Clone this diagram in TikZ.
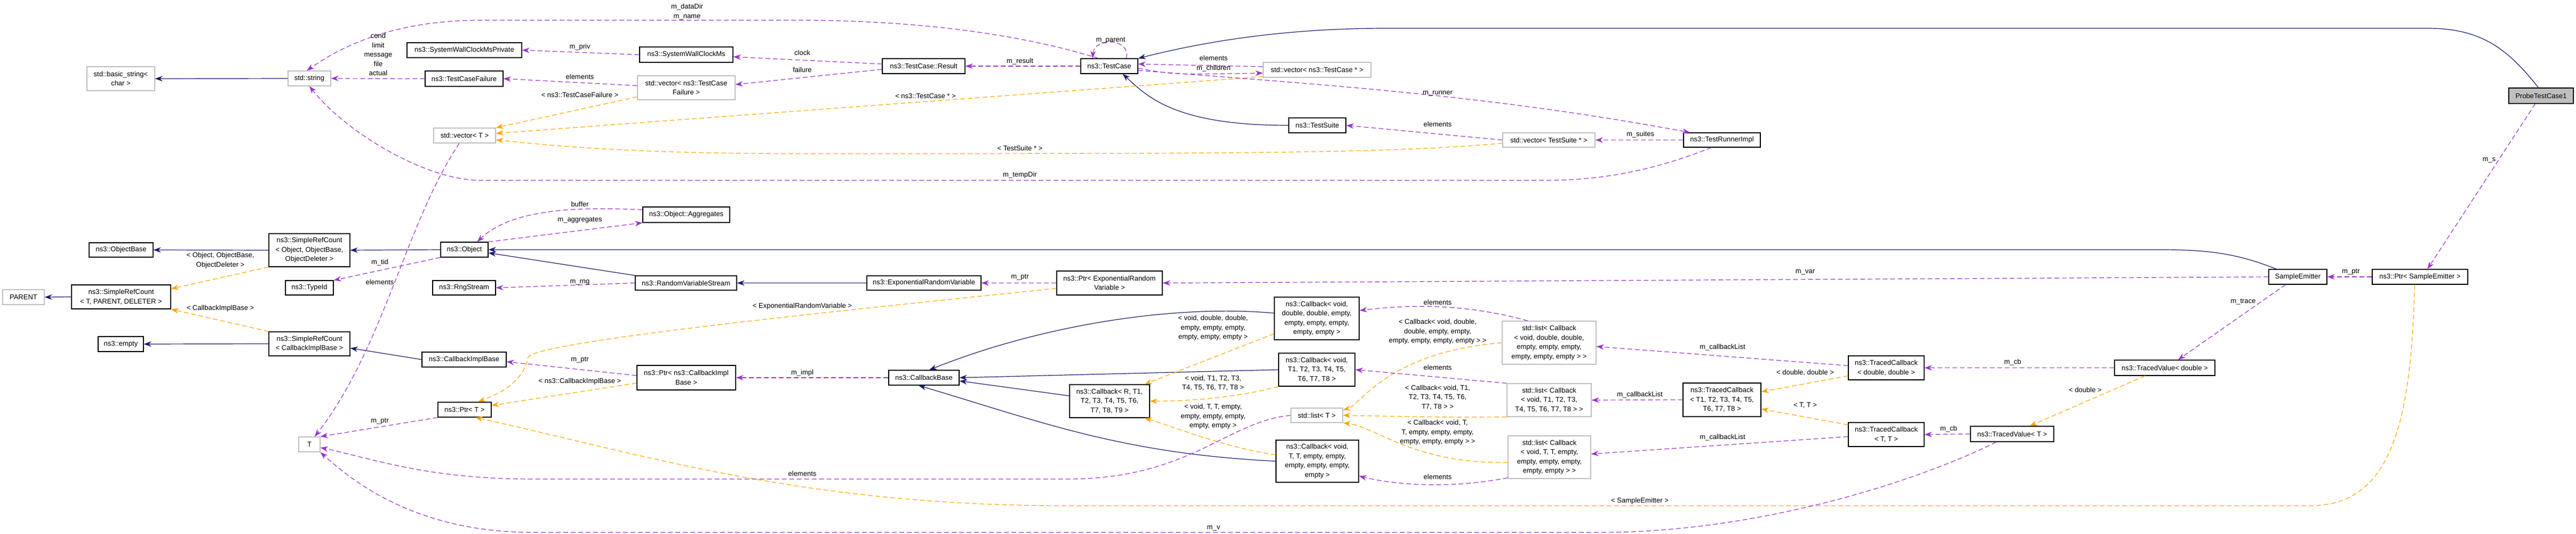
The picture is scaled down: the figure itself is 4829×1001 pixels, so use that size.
\documentclass[tikz,border=0pt]{standalone}
\usepackage{fontspec}
\setmainfont{Liberation Sans}
\usetikzlibrary{arrows.meta}
\definecolor{inh}{HTML}{191970}
\definecolor{use}{HTML}{9A32CD}
\definecolor{tpl}{HTML}{FFA500}
\definecolor{grayb}{HTML}{BFBFBF}
\newcommand\bx[7][]{\node[box,#1,minimum width={#4-#2},minimum height={#5-#3}] (#6) at ({(#2+#4)/2},{(#3+#5)/2}) {#7};}
\newcommand\lb[3]{\node[lbl] (#1) at (#2) {#3};}
\begin{document}
\begin{tikzpicture}[x=1pt,y=-1pt,
  box/.style={draw=black,line width=1.2pt,fill=white,align=center,inner sep=1pt,font=\fontsize{13}{17.5}\selectfont},
  gbox/.style={draw=grayb},
  lbl/.style={align=center,inner sep=0pt,font=\fontsize{13}{17.5}\selectfont},
  inhE/.style={draw=inh,line width=1.2pt,-{Stealth[length=14pt,width=10pt]}},
  useE/.style={draw=use,line width=1.2pt,dash pattern=on 9pt off 5pt,-{Stealth[length=14pt,width=10pt]}},
  tplE/.style={draw=tpl,line width=1.2pt,dash pattern=on 9pt off 5pt,-{Stealth[length=14pt,width=10pt]}}]
\useasboundingbox (0,0) rectangle (4829,1001);
% nodes
\bx[gbox]{163}{125}{290}{170}{bstr}{std::basic\_string<\\ char >}
\bx[gbox]{540}{133}{620}{161}{str}{std::string}
\bx{167}{455}{287}{482}{objbase}{ns3::ObjectBase}
\bx{504}{438}{656}{500}{srcobj}{ns3::SimpleRefCount\\< Object, ObjectBase,\\ObjectDeleter >}
\bx[gbox]{5}{543}{83}{571}{parent}{PARENT}
\bx{134}{534}{320}{579}{srct}{ns3::SimpleRefCount\\< T, PARENT, DELETER >}
\bx{535}{526}{625}{553}{typeid}{ns3::TypeId}
\bx{184}{631}{269}{659}{empty}{ns3::empty}
\bx{504}{622}{656}{667}{srccb}{ns3::SimpleRefCount\\< CallbackImplBase >}
\bx[gbox]{560}{819}{600}{847}{T}{T}
\bx{763}{80}{978}{108}{swcmp}{ns3::SystemWallClockMsPrivate}
\bx{797}{133}{943}{162}{tcf}{ns3::TestCaseFailure}
\bx{1199}{88}{1374}{117}{swcm}{ns3::SystemWallClockMs}
\bx[gbox]{1195}{142}{1378}{187}{vtcf}{std::vector< ns3::TestCase\\Failure >}
\bx{1654}{110}{1809}{138}{res}{ns3::TestCase::Result}
\bx[gbox]{813}{240}{929}{268}{vecT}{std::vector< T >}
\bx{826}{454}{915}{482}{obj}{ns3::Object}
\bx{1205}{388}{1368}{417}{aggr}{ns3::Object::Aggregates}
\bx{811}{526}{929}{553}{rng}{ns3::RngStream}
\bx{1191}{517}{1381}{544}{rvs}{ns3::RandomVariableStream}
\bx{1625}{517}{1839}{544}{erv}{ns3::ExponentialRandomVariable}
\bx{791}{660}{949}{688}{cib}{ns3::CallbackImplBase}
\bx{1194}{685}{1379}{731}{pcib}{ns3::Ptr< ns3::CallbackImpl\\Base >}
\bx{1666}{694}{1798}{722}{cbb}{ns3::CallbackBase}
\bx{821}{754}{921}{782}{ptrT}{ns3::Ptr< T >}
\bx{2026}{110}{2133}{138}{tc}{ns3::TestCase}
\bx[gbox]{2368}{117}{2570}{145}{vtc}{std::vector< ns3::TestCase * >}
\bx{2416}{221}{2523}{249}{ts}{ns3::TestSuite}
\bx{1981}{508}{2179}{553}{perv}{ns3::Ptr< ExponentialRandom\\Variable >}
\bx{2389}{557}{2548}{637}{cbdd}{ns3::Callback< void,\\double, double, empty,\\empty, empty, empty,\\empty, empty >}
\bx{2397}{662}{2540}{724}{cbt8}{ns3::Callback< void,\\T1, T2, T3, T4, T5,\\T6, T7, T8 >}
\bx{2005}{721}{2155}{783}{cbr}{ns3::Callback< R, T1,\\T2, T3, T4, T5, T6,\\T7, T8, T9 >}
\bx[gbox]{2420}{765}{2517}{792}{listT}{std::list< T >}
\bx{2392}{825}{2547}{904}{cbtt}{ns3::Callback< void,\\T, T, empty, empty,\\empty, empty, empty,\\empty >}
\bx[gbox]{2817}{249}{2990}{276}{vts}{std::vector< TestSuite * >}
\bx{3156}{249}{3300}{276}{tri}{ns3::TestRunnerImpl}
\bx[gbox]{2816}{602}{2992}{683}{lcdd}{std::list< Callback\\< void, double, double,\\empty, empty, empty,\\empty, empty, empty > >}
\bx[gbox]{2825}{719}{2983}{781}{lct8}{std::list< Callback\\< void, T1, T2, T3,\\T4, T5, T6, T7, T8 > >}
\bx{3155}{718}{3301}{781}{tcb8}{ns3::TracedCallback\\< T1, T2, T3, T4, T5,\\T6, T7, T8 >}
\bx[gbox]{2827}{817}{2982}{897}{lctt}{std::list< Callback\\< void, T, T, empty,\\empty, empty, empty,\\empty, empty > >}
\bx{3465}{667}{3607}{712}{tcdd}{ns3::TracedCallback\\< double, double >}
\bx{3465}{792}{3607}{837}{tctt}{ns3::TracedCallback\\< T, T >}
\bx[fill=grayb]{4703}{165}{4824}{194}{probe}{ProbeTestCase1}
\bx{4253}{505}{4362}{533}{se}{SampleEmitter}
\bx{4447}{505}{4626}{533}{pse}{ns3::Ptr< SampleEmitter >}
\bx{3964}{675}{4152}{704}{tvd}{ns3::TracedValue< double >}
\bx{3694}{799}{3850}{828}{tvT}{ns3::TracedValue< T >}
% inheritance
\draw[inhE] (str.west) -- (bstr.east);
\draw[inhE] (srcobj.west) -- (objbase.east);
\draw[inhE] (srct.west) -- (parent.east);
\draw[inhE] (srccb.west) -- (empty.east);
\draw[inhE] (obj.west) -- (srcobj.east);
\draw[inhE] (rvs.north west) -- ([yshift=-6pt]obj.east);
\draw[inhE] (erv.west) -- (rvs.east);
\draw[inhE] ([xshift=-40pt]se.north) .. controls (4200,478) and (4150,468) .. (4050,468) -- (obj.east);
\draw[inhE] (cib.west) -- ([yshift=-8pt]srccb.east);
\draw[inhE] ([xshift=-5pt]probe.north) .. controls (4700,90) and (4650,53) .. (4550,53) -- (2600,53) .. controls (2400,53) and (2250,80) .. (tc.north east);
\draw[inhE] (ts.west) .. controls (2200,235) and (2150,180) .. ([xshift=25pt]tc.south);
\draw[inhE] ([yshift=10pt]cbdd.west) .. controls (2200,570) and (1950,610) .. ([xshift=10pt]cbb.north);
\draw[inhE] (cbt8.west) -- (cbb.east);
\draw[inhE] ([yshift=10pt]cbr.west) -- ([yshift=-6pt]cbb.east);
\draw[inhE] (cbtt.west) .. controls (2100,850) and (1950,790) .. ([xshift=-10pt]cbb.south);
% template
\draw[tplE] (srcobj.south west) -- ([yshift=-8pt]srct.north east);
\draw[tplE] (srccb.north west) -- (srct.south east);
\draw[tplE] ([yshift=6pt]vtcf.south west) -- (vecT.north east);
\draw[tplE] ([yshift=2pt]vtc.south west) -- ([yshift=4pt]vecT.east);
\draw[tplE] ([yshift=-6pt]vts.west) .. controls (2600,288) and (2300,288) .. (1500,288) .. controls (1200,288) and (1050,275) .. ([yshift=-8pt]vecT.east);
\draw[tplE] ([yshift=-10pt]perv.west) .. controls (1600,580) and (1000,640) .. (990,670) .. controls (980,720) and (930,740) .. ([xshift=25pt]ptrT.north);
\draw[tplE] ([yshift=-10pt]pcib.west) -- ([yshift=8pt]ptrT.east);
\draw[tplE] ([xshift=-10pt]pse.south) .. controls (4520,800) and (4480,948) .. (4330,948) -- (2000,948) .. controls (1500,948) and (1200,850) .. ([xshift=20pt]ptrT.south);
\draw[tplE] ([yshift=12pt]cbdd.south west) -- ([xshift=-10pt]cbr.north east);
\draw[tplE] (cbt8.south west) .. controls (2300,750) and (2200,752) .. (cbr.east);
\draw[tplE] ([yshift=12pt]cbtt.west) .. controls (2300,840) and (2200,800) .. ([xshift=-10pt]cbr.south east);
\draw[tplE] (lcdd.west) .. controls (2600,660) and (2550,760) .. ([yshift=-4pt]listT.north east);
\draw[tplE] (lct8.south west) .. controls (2700,783) and (2600,780) .. (listT.east);
\draw[tplE] ([yshift=-10pt]lctt.west) .. controls (2650,870) and (2580,800) .. (listT.south east);
\draw[tplE] ([yshift=8pt]tcdd.south west) -- ([yshift=-17pt]tcb8.north east);
\draw[tplE] ([yshift=-5pt]tctt.north west) -- ([yshift=15pt]tcb8.south east);
\draw[tplE] ([xshift=-37pt]tvd.south) -- ([xshift=33pt]tvT.north);
% usage
\draw[useE] (tcf.west) -- (str.east);
\draw[useE] ([xshift=-20pt]tc.north) .. controls (1900,60) and (1700,38) .. (1500,38) -- (900,38) .. controls (750,38) and (650,80) .. ([xshift=-5pt]str.north);
\draw[useE] ([xshift=-20pt]tri.south) .. controls (3100,320) and (3000,338) .. (2900,338) -- (900,338) .. controls (800,338) and (650,250) .. (str.south);
\draw[useE] (swcm.west) -- (swcmp.east);
\draw[useE] ([yshift=4pt]res.west) -- ([yshift=-4pt]swcm.east);
\draw[useE] ([yshift=-6pt]res.west) -- ([yshift=6pt]vtcf.east);
\draw[useE] ([yshift=4pt]vtcf.west) -- (tcf.east);
\draw[useE] (tc.west) -- (res.east);
\draw[useE] ([xshift=32pt]tc.north) .. controls (2120,70) and (2050,70) .. ([xshift=-31pt]tc.north);
\draw[useE] ([yshift=6pt]vtc.west) -- ([yshift=4pt]tc.east);
\draw[useE] ([yshift=-4pt]tc.east) .. controls (2200,140) .. ([yshift=-6pt]vtc.west);
\draw[useE] ([yshift=-8pt]tc.east) .. controls (2500,160) and (2800,180) .. ([xshift=-60pt]tri.north);
\draw[useE] (vts.west) -- (ts.east);
\draw[useE] (tri.west) -- (vts.east);
\draw[useE] (obj.north east) -- (aggr.south west);
\draw[useE] ([yshift=-6pt]aggr.north west) .. controls (1050,385) and (950,400) .. ([xshift=24pt]obj.north);
\draw[useE] (obj.south west) -- (typeid.north east);
\draw[useE] (rvs.west) -- (rng.east);
\draw[useE] (perv.west) -- (erv.east);
\draw[useE] (se.west) -- (perv.east);
\draw[useE] ([yshift=4pt]pcib.west) -- ([yshift=-4pt]cib.east);
\draw[useE] (cbb.west) -- (pcib.east);
\draw[useE] (ptrT.south west) -- (T.north east);
\draw[useE] ([xshift=-10pt]vecT.south) .. controls (760,420) and (720,650) .. ([xshift=10pt]T.north);
\draw[useE] (listT.west) .. controls (2300,790) and (2230,898) .. (2000,898) -- (1000,898) .. controls (800,898) and (700,860) .. ([yshift=-6pt]T.east);
\draw[useE] ([xshift=-30pt]tvT.south) .. controls (3600,900) and (3300,998) .. (3000,998) -- (1000,998) .. controls (800,998) and (680,920) .. (T.south east);
\draw[useE] ([xshift=-40pt]lcdd.north) .. controls (2750,570) and (2650,570) .. ([yshift=15pt]cbdd.east);
\draw[useE] (lct8.north west) -- (cbt8.east);
\draw[useE] ([yshift=2pt]lctt.south west) .. controls (2700,920) and (2600,905) .. ([yshift=-28pt]cbtt.east);
\draw[useE] ([yshift=4pt]tcdd.west) -- ([yshift=-7pt]lcdd.east);
\draw[useE] (tcb8.west) -- (lct8.east);
\draw[useE] ([yshift=-4pt]tctt.west) -- ([yshift=6pt]lctt.east);
\draw[useE] (tvd.west) -- (tcdd.east);
\draw[useE] (tvT.west) -- (tctt.east);
\draw[useE] ([xshift=-23pt]se.south) -- ([xshift=25pt]tvd.north);
\draw[useE] (pse.west) -- (se.east);
\draw[useE] ([xshift=-11pt]probe.south) -- ([xshift=14pt]pse.north);
% labels
\lb{l1}{1288,22}{m\_dataDir\\m\_name}
\lb{l2}{709,102}{cond\\limit\\message\\file\\actual}
\lb{l3}{1087,88}{m\_priv}
\lb{l4}{1504,99}{clock}
\lb{l5}{1504,131}{failure}
\lb{l6}{1087,144}{elements}
\lb{l7}{1087,178}{< ns3::TestCaseFailure >}
\lb{l8}{1912,115}{m\_result}
\lb{l9}{2082,76}{m\_parent}
\lb{l10}{2275,109}{elements}
\lb{l11}{2275,128}{m\_children}
\lb{l12}{1735,180}{< ns3::TestCase * >}
\lb{l13}{2695,175}{m\_runner}
\lb{l14}{2695,233}{elements}
\lb{l15}{3075,252}{m\_suites}
\lb{l16}{1912,278}{< TestSuite * >}
\lb{l17}{1912,328}{m\_tempDir}
\lb{l18}{4666,300}{m\_s}
\lb{l19}{1087,383}{buffer}
\lb{l20}{1087,413}{m\_aggregates}
\lb{l21}{712,492}{m\_tid}
\lb{l22}{712,529}{elements}
\lb{l23}{413,488}{< Object, ObjectBase,\\ObjectDeleter >}
\lb{l24}{413,578}{< CallbackImplBase >}
\lb{l25}{1087,529}{m\_rng}
\lb{l26}{1912,520}{m\_ptr}
\lb{l27}{3384,510}{m\_var}
\lb{l28}{4407,510}{m\_ptr}
\lb{l29}{4205,566}{m\_trace}
\lb{l30}{1504,574}{< ExponentialRandomVariable >}
\lb{l31}{2695,567}{elements}
\lb{l32}{2695,622}{< Callback< void, double,\\double, empty, empty,\\empty, empty, empty, empty > >}
\lb{l33}{3229,651}{m\_callbackList}
\lb{l34}{2274,615}{< void, double, double,\\empty, empty, empty,\\empty, empty, empty >}
\lb{l35}{1087,675}{m\_ptr}
\lb{l36}{1504,699}{m\_impl}
\lb{l37}{3773,679}{m\_cb}
\lb{l38}{3384,699}{< double, double >}
\lb{l39}{2695,689}{elements}
\lb{l40}{2695,745}{< Callback< void, T1,\\T2, T3, T4, T5, T6,\\T7, T8 > >}
\lb{l41}{3074,740}{m\_callbackList}
\lb{l42}{2274,718}{< void, T1, T2, T3,\\T4, T5, T6, T7, T8 >}
\lb{l43}{3909,731}{< double >}
\lb{l44}{3384,760}{< T, T >}
\lb{l45}{2274,781}{< void, T, T, empty,\\empty, empty, empty,\\empty, empty >}
\lb{l46}{712,790}{m\_ptr}
\lb{l47}{3653,804}{m\_cb}
\lb{l48}{2695,811}{< Callback< void, T,\\T, empty, empty, empty,\\empty, empty, empty > >}
\lb{l49}{3229,820}{m\_callbackList}
\lb{l50}{1504,888}{elements}
\lb{l51}{2695,894}{elements}
\lb{l52}{3074,939}{< SampleEmitter >}
\lb{l53}{2275,990}{m\_v}
\lb{l54}{1087,715}{< ns3::CallbackImplBase >}
\end{tikzpicture}
\end{document}
